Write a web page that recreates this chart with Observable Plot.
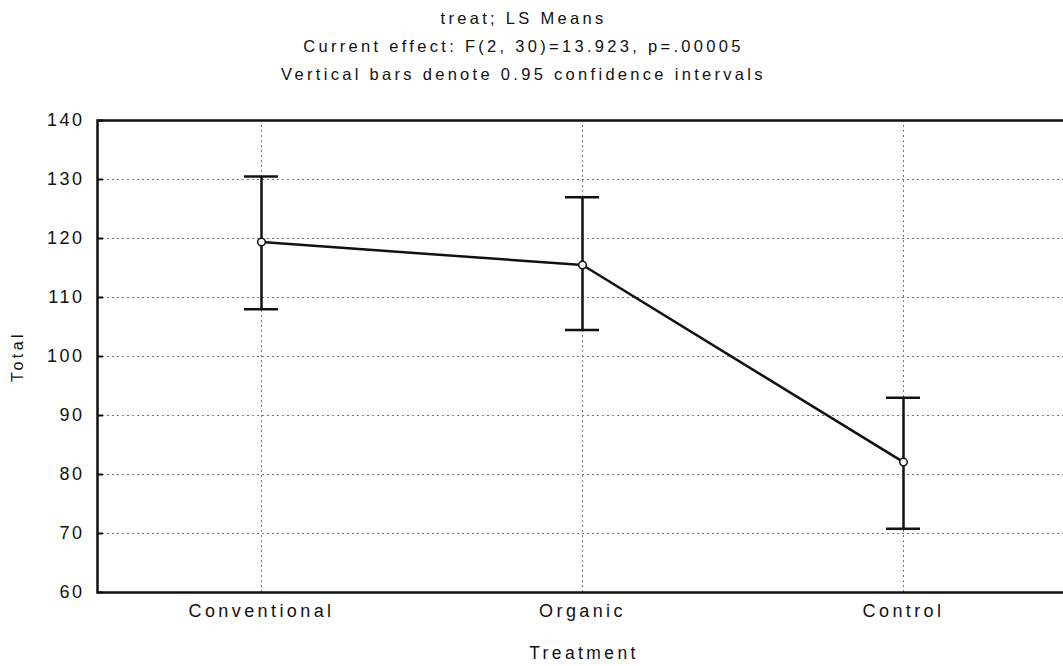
<!DOCTYPE html>
<html>
<head>
<meta charset="utf-8">
<script src="https://cdn.jsdelivr.net/npm/d3@7"></script>
<script src="https://cdn.jsdelivr.net/npm/@observablehq/plot@0.6"></script>
<style>
  html, body { margin: 0; padding: 0; background: #fff; overflow: hidden; }
  #wrap { position: relative; width: 1063px; height: 666px; overflow: hidden; background: #fff; font-family: "Liberation Sans", Arial, sans-serif; color: #111; }
  #chart { position: absolute; left: 0; top: 0; z-index: 0; }
  #chart svg { max-width: none !important; }
  #chart svg text { letter-spacing: 3.4px; }
  #chart svg g[aria-label="y-axis tick label"] text { letter-spacing: 2.5px; }
  .t { position: absolute; left: 0; width: 1047px; text-align: center; font-size: 16.5px; letter-spacing: 3.3px; z-index: 1; line-height: 18px; }
</style>
</head>
<body>
<div id="wrap">
  <div id="chart"></div>
  <div class="t" style="top:9px">treat; LS Means</div>
  <div class="t" style="top:37px">Current effect: F(2, 30)=13.923, p=.00005</div>
  <div class="t" style="top:65px">Vertical bars denote 0.95 confidence intervals</div>
</div>
<script>
const categories = ["Conventional", "Organic", "Control"];
const means = [119.4, 115.5, 82.1];
const lower = [108.0, 104.5, 70.8];
const upper = [130.5, 127.0, 93.0];
const yTicks = [60, 70, 80, 90, 100, 110, 120, 130, 140];

const data = categories.map((c, i) => ({treat: c, mean: means[i], lo: lower[i], hi: upper[i]}));

const chart = Plot.plot({
  width: 1070,
  height: 666,
  marginTop: 120,
  marginBottom: 74,
  marginLeft: 97,
  marginRight: 0,
  style: {fontFamily: "Liberation Sans, Arial, sans-serif", color: "#111", background: "transparent", maxWidth: "none"},
  x: {type: "band", domain: categories, range: [244, 921], paddingInner: 0.894, paddingOuter: 0, label: null},
  y: {domain: [60, 140], ticks: yTicks, label: null},
  marks: [
    Plot.ruleY(yTicks.slice(1, -1), {stroke: "#777", strokeWidth: 1, strokeDasharray: "2,3"}),
    Plot.ruleX(categories, {x: d => d, stroke: "#777", strokeWidth: 1, strokeDasharray: "2,3"}),
    Plot.frame({stroke: "#111", strokeWidth: 2.5}),
    Plot.axisY({ticks: yTicks, tickSize: 0, tickPadding: 13, fontSize: 18, label: null}),
    Plot.tickY(yTicks, {y: d => d, insetRight: 1070 - 97 - 6, stroke: "#111", strokeWidth: 2}),
    Plot.axisX({tickSize: 0, tickPadding: 12, fontSize: 18, label: null}),
    Plot.ruleX(data, {x: "treat", y1: "lo", y2: "hi", stroke: "#111", strokeWidth: 2.5}),
    Plot.tickY(data, {x: "treat", y: "lo", stroke: "#111", strokeWidth: 2.5}),
    Plot.tickY(data, {x: "treat", y: "hi", stroke: "#111", strokeWidth: 2.5}),
    Plot.line(data, {x: "treat", y: "mean", stroke: "#111", strokeWidth: 2.5}),
    Plot.dot(data, {x: "treat", y: "mean", r: 3.8, fill: "white", stroke: "#111", strokeWidth: 1.5}),
    Plot.text(["Total"], {text: d => d, frameAnchor: "left", textAnchor: "middle", lineAnchor: "middle", dx: -80, rotate: -90, fontSize: 16, fill: "#111"}),
    Plot.text(["Treatment"], {text: d => d, frameAnchor: "bottom", textAnchor: "middle", lineAnchor: "middle", dy: 61, fontSize: 17.5, fill: "#111"})
  ]
});
document.getElementById("chart").appendChild(chart);
</script>
</body>
</html>
